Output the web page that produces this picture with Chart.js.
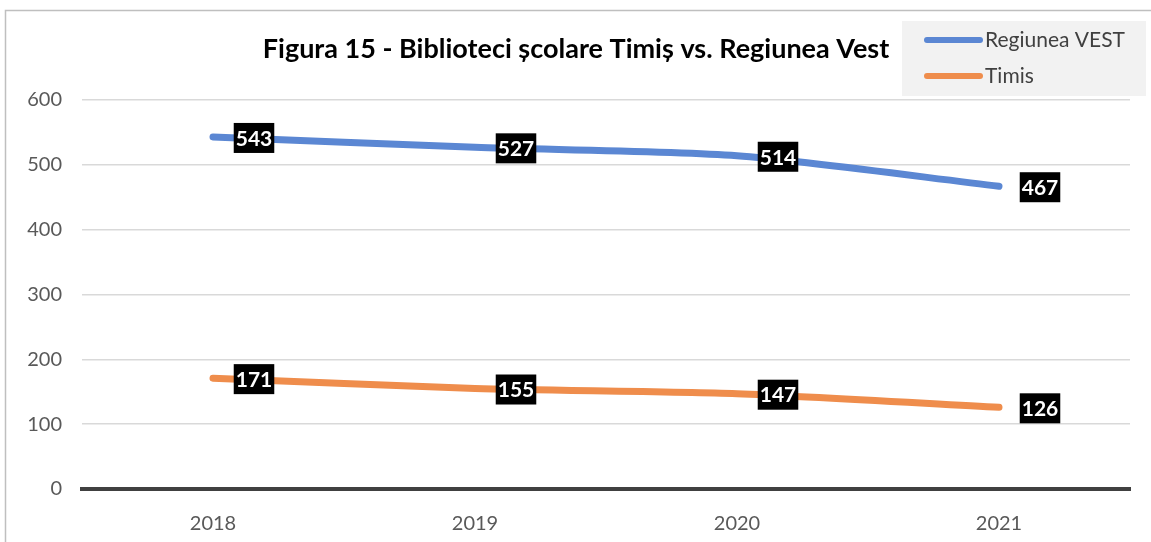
<!DOCTYPE html>
<html>
<head>
<meta charset="utf-8">
<script src="https://cdn.jsdelivr.net/npm/chart.js@4/dist/chart.umd.min.js"></script>
<style>
  html, body { margin: 0; padding: 0; background: #fff; }
  #wrap { position: relative; width: 1151px; height: 542px; }
</style>
</head>
<body>
<div id="wrap"><canvas id="chart" width="1151" height="542"></canvas></div>
<script>
const years = ['2018', '2019', '2020', '2021'];
const regiuneaVest = [543, 527, 514, 467];
const timis = [171, 155, 147, 126];
const seriesNames = ['Regiunea VEST', 'Timis'];
const yTicks = [0, 100, 200, 300, 400, 500, 600];
const chartTitle = 'Figura 15 - Biblioteci școlare Timiș vs. Regiunea Vest';

const FONT = 'Lato, "Open Sans", sans-serif';
const colors = ['#5B87D3', '#EF8D4C'];

// outer frame of the figure
const framePlugin = {
  id: 'frame',
  beforeDraw(chart) {
    const ctx = chart.ctx;
    ctx.save();
    ctx.strokeStyle = '#BFBFBF';
    ctx.lineWidth = 1.5;
    ctx.strokeRect(5.5, 10.5, 1200, 600);
    ctx.restore();
  }
};

// black boxes with white numbers next to each point
const labelPlugin = {
  id: 'valueLabels',
  afterDatasetsDraw(chart) {
    const ctx = chart.ctx;
    ctx.save();
    ctx.font = 'bold 21px ' + FONT;
    ctx.textAlign = 'center';
    ctx.textBaseline = 'middle';
    chart.data.datasets.forEach((ds, i) => {
      chart.getDatasetMeta(i).data.forEach((pt, j) => {
        const txt = String(ds.data[j]);
        const w = ctx.measureText(txt).width + 4;
        const cx = pt.x + 41;
        const cy = pt.y + 1;
        ctx.fillStyle = '#000';
        ctx.fillRect(cx - w / 2, cy - 15, w, 30);
        ctx.fillStyle = '#fff';
        ctx.fillText(txt, cx, cy + 1);
      });
    });
    ctx.restore();
  }
};

// legend box at top right
const legendPlugin = {
  id: 'boxLegend',
  afterDraw(chart) {
    const ctx = chart.ctx;
    ctx.save();
    ctx.fillStyle = '#F2F2F2';
    ctx.fillRect(902, 21, 244, 75);
    ctx.font = '21px ' + FONT;
    ctx.textBaseline = 'middle';
    ctx.lineCap = 'round';
    seriesNames.forEach((name, i) => {
      const y = 40 + i * 36;
      ctx.strokeStyle = colors[i];
      ctx.lineWidth = 6;
      ctx.beginPath();
      ctx.moveTo(927, y);
      ctx.lineTo(980, y);
      ctx.stroke();
      ctx.fillStyle = '#404040';
      ctx.fillText(name, 985, y);
    });
    ctx.restore();
  }
};

new Chart(document.getElementById('chart'), {
  type: 'line',
  data: {
    labels: years,
    datasets: [
      { label: seriesNames[0], data: regiuneaVest, borderColor: colors[0], backgroundColor: colors[0] },
      { label: seriesNames[1], data: timis, borderColor: colors[1], backgroundColor: colors[1] }
    ]
  },
  options: {
    responsive: false,
    animation: false,
    layout: { padding: { left: 22, right: 21, top: 0, bottom: 0 } },
    elements: {
      line: { borderWidth: 7, tension: 0.25, borderCapStyle: 'round' },
      point: { radius: 0, hoverRadius: 0 }
    },
    plugins: {
      legend: { display: false },
      tooltip: { enabled: false },
      title: {
        display: true,
        text: chartTitle,
        color: '#000',
        font: { family: FONT, size: 27, weight: 'bold', lineHeight: 1 },
        padding: { top: 36, bottom: 37 }
      }
    },
    scales: {
      x: {
        offset: true,
        grid: { display: false },
        border: { color: '#404040', width: 4 },
        ticks: { color: '#595959', font: { family: FONT, size: 20 }, padding: 15 },
        afterFit(scale) { scale.height = 53; }
      },
      y: {
        min: 0,
        max: 600,
        afterBuildTicks(scale) { scale.ticks = yTicks.map(v => ({ value: v })); },
        grid: { color: '#D9D9D9', lineWidth: 1.5, drawTicks: false },
        border: { display: false },
        ticks: { color: '#595959', font: { family: FONT, size: 20 }, padding: 20 },
        afterFit(scale) { scale.width = 60; }
      }
    }
  },
  plugins: [framePlugin, labelPlugin, legendPlugin]
});
</script>
</body>
</html>
